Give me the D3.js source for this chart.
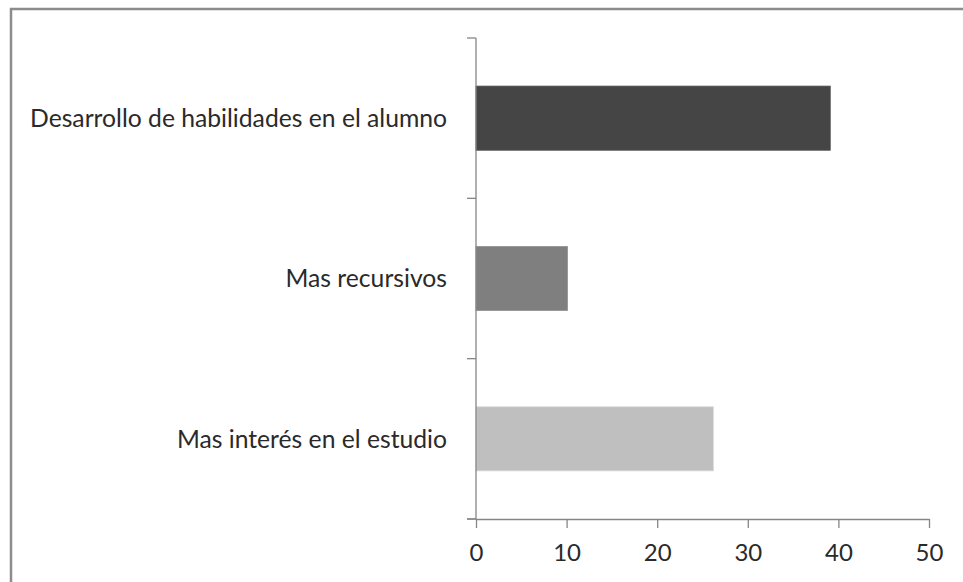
<!DOCTYPE html>
<html>
<head>
<meta charset="utf-8">
<script src="https://cdn.jsdelivr.net/npm/d3@7"></script>
<style>
  html, body { margin: 0; padding: 0; background: #fff; }
  svg { display: block; }
  text { font-family: Lato, "Open Sans", sans-serif; fill: #2a2a2a; }
</style>
</head>
<body>
<svg id="chart" width="963" height="582"></svg>
<script>
const categories = ["Desarrollo de habilidades en el alumno", "Mas recursivos", "Mas interés en el estudio"];
const values = [39.1, 10.1, 26.2];
const barColors = ["#454545", "#7f7f7f", "#bfbfbf"];
const xTicks = [0, 10, 20, 30, 40, 50];

const svg = d3.select("#chart");
const W = 963, H = 582;
const plot = { left: 476, right: 929, top: 38, bottom: 519 };

// outer frame
svg.append("rect")
  .attr("x", 11).attr("y", 9)
  .attr("width", W + 20).attr("height", H + 20)
  .attr("fill", "#fff")
  .attr("stroke", "#8c8c8c").attr("stroke-width", 2.5);

const x = d3.scaleLinear().domain([0, 50]).range([plot.left, plot.right]);
const y = d3.scaleBand().domain(categories).range([plot.top, plot.bottom])
  .paddingInner(0.6).paddingOuter(0.3);
const yEdges = d3.scaleBand().domain(categories).range([plot.top, plot.bottom]).padding(0);

// bars
svg.selectAll("rect.bar").data(categories).enter().append("rect")
  .attr("class", "bar")
  .attr("x", x(0))
  .attr("y", d => y(d))
  .attr("width", (d, i) => x(values[i]) - x(0))
  .attr("height", y.bandwidth())
  .attr("fill", (d, i) => barColors[i])
  .attr("stroke", (d, i) => d3.color(barColors[i]).brighter(0.4))
  .attr("stroke-width", 0.8);

const axisColor = "#868686";

// y axis line and ticks (band boundaries)
const yBounds = categories.map(d => yEdges(d)).concat([plot.bottom]);
svg.append("line")
  .attr("x1", x(0)).attr("x2", x(0))
  .attr("y1", plot.top).attr("y2", plot.bottom)
  .attr("stroke", axisColor).attr("stroke-width", 1.3);
svg.selectAll("line.ytick").data(yBounds).enter().append("line")
  .attr("class", "ytick")
  .attr("x1", x(0) - 9).attr("x2", x(0))
  .attr("y1", d => d).attr("y2", d => d)
  .attr("stroke", axisColor).attr("stroke-width", 1.3);

// category labels
svg.selectAll("text.cat").data(categories).enter().append("text")
  .attr("class", "cat")
  .attr("x", x(0) - 29)
  .attr("y", d => y(d) + y.bandwidth() / 2)
  .attr("dy", "0.36em")
  .attr("text-anchor", "end")
  .style("font-size", "24.7px")
  .text(d => d);

// x axis
const xAxis = d3.axisBottom(x).tickValues(xTicks).tickSize(9).tickSizeOuter(0).tickPadding(16);
const gx = svg.append("g").attr("transform", `translate(0,${plot.bottom})`).call(xAxis);
gx.select(".domain").attr("stroke", axisColor).attr("stroke-width", 1.3);
gx.selectAll(".tick line").attr("stroke", axisColor).attr("stroke-width", 1.3);
gx.selectAll(".tick text")
  .style("font-family", "Lato, 'Open Sans', sans-serif")
  .style("font-size", "24px")
  .attr("fill", "#2a2a2a");
// small extension of x axis left of the y axis
svg.append("line")
  .attr("x1", x(0) - 9).attr("x2", x(0))
  .attr("y1", plot.bottom).attr("y2", plot.bottom)
  .attr("stroke", axisColor).attr("stroke-width", 1.3);
</script>
</body>
</html>
